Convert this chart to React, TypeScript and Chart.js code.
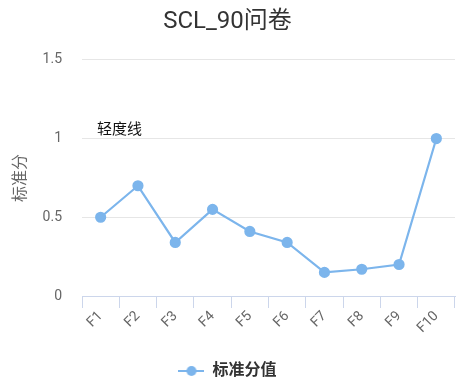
import React, { useEffect, useRef } from 'react';
import { Chart, registerables } from 'chart.js';

Chart.register(...registerables);

const titleText = 'SCL_90问卷';
const categories = ['F1', 'F2', 'F3', 'F4', 'F5', 'F6', 'F7', 'F8', 'F9', 'F10'];
const scores = [0.5, 0.7, 0.34, 0.55, 0.41, 0.34, 0.15, 0.17, 0.2, 1.0];
const yTicks = [0, 0.5, 1, 1.5];
const seriesName = '标准分值';
const yTitle = '标准分';
const thresholdValue = 1;
const thresholdLabel = '轻度线';

const LINE_COLOR = '#7cb5ec';
const FONT = "Roboto, 'Noto Sans CJK SC', sans-serif";

function makeLegendIcon(): HTMLCanvasElement {
  const c = document.createElement('canvas');
  c.width = 26;
  c.height = 12;
  const ctx = c.getContext('2d')!;
  ctx.strokeStyle = LINE_COLOR;
  ctx.lineWidth = 2;
  ctx.beginPath();
  ctx.moveTo(0, 6);
  ctx.lineTo(26, 6);
  ctx.stroke();
  ctx.fillStyle = LINE_COLOR;
  ctx.beginPath();
  ctx.arc(13, 6, 5, 0, Math.PI * 2);
  ctx.fill();
  return c;
}

const thresholdPlugin = {
  id: 'thresholdLabel',
  afterLayout(chart: any) {
    if (chart.legend) {
      chart.legend.top += 5;
      chart.legend.bottom += 5;
    }
  },
  afterDatasetsDraw(chart: any) {
    const { ctx, chartArea, scales } = chart;
    const y = scales.y.getPixelForValue(thresholdValue);
    ctx.save();
    ctx.font = `15px ${FONT}`;
    ctx.fillStyle = '#111';
    ctx.textAlign = 'left';
    ctx.textBaseline = 'alphabetic';
    ctx.fillText(thresholdLabel, chartArea.left + 15, y - 5);
    ctx.restore();
  },
};

export default function App() {
  const canvasRef = useRef<HTMLCanvasElement | null>(null);

  useEffect(() => {
    const canvas = canvasRef.current;
    if (!canvas) return;
    const icon = makeLegendIcon();
    const chart = new Chart(canvas, {
      type: 'line',
      data: {
        labels: categories,
        datasets: [
          {
            label: seriesName,
            data: scores,
            borderColor: LINE_COLOR,
            backgroundColor: LINE_COLOR,
            pointBackgroundColor: LINE_COLOR,
            pointBorderColor: LINE_COLOR,
            pointRadius: 4.5,
            borderWidth: 2.2,
            tension: 0,
            fill: false,
          },
        ],
      },
      options: {
        responsive: false,
        animation: false,
        layout: { padding: { left: 0, right: 20, top: 0, bottom: 0 } },
        plugins: {
          title: {
            display: true,
            text: titleText,
            color: '#333',
            font: { size: 24, family: FONT, weight: 'normal' },
            padding: { top: 8, bottom: 23 },
          },
          legend: {
            display: true,
            position: 'bottom',
            labels: {
              usePointStyle: true,
              pointStyleWidth: 26,
              padding: 5,
              color: '#333',
              font: { size: 16, family: FONT, weight: 'bold' },
              generateLabels: () => [
                {
                  text: seriesName,
                  pointStyle: icon as any,
                  fillStyle: LINE_COLOR,
                  strokeStyle: LINE_COLOR,
                  lineWidth: 0,
                  hidden: false,
                  datasetIndex: 0,
                  fontColor: '#333',
                } as any,
              ],
            },
          },
          tooltip: { enabled: false },
        },
        scales: {
          x: {
            type: 'category',
            offset: true,
            grid: {
              display: true,
              drawOnChartArea: false,
              drawTicks: true,
              tickLength: 12,
              offset: true,
              color: '#ccd6eb',
              lineWidth: 1,
            },
            border: { display: true, color: '#ccd6eb', width: 1 },
            ticks: {
              color: '#666',
              font: { size: 14, family: FONT },
              minRotation: 45,
              maxRotation: 45,
              padding: 0,
              autoSkip: false,
            },
            afterFit: (s: any) => {
              s.height = 57;
            },
          },
          y: {
            type: 'linear',
            min: 0,
            max: 1.5,
            grid: { color: '#e6e6e6', drawTicks: false, lineWidth: 1 },
            border: { display: false },
            ticks: {
              color: '#666',
              font: { size: 14, family: FONT },
              padding: 20,
              callback: (v: any) => String(v),
            },
            afterBuildTicks: (s: any) => {
              s.ticks = yTicks.map((v) => ({ value: v }));
            },
            afterFit: (s: any) => {
              s.width = 82;
            },
            title: {
              display: true,
              text: yTitle,
              color: '#666',
              font: { size: 16, family: FONT },
              padding: { top: 11, bottom: 0 },
            },
          },
        },
      },
      plugins: [thresholdPlugin],
    });
    return () => chart.destroy();
  }, []);

  return (
    <div style={{ position: 'absolute', left: 0, top: 0, width: 475, height: 384, background: '#fff' }}>
      <canvas ref={canvasRef} width={475} height={384} style={{ display: 'block' }} />
    </div>
  );
}
